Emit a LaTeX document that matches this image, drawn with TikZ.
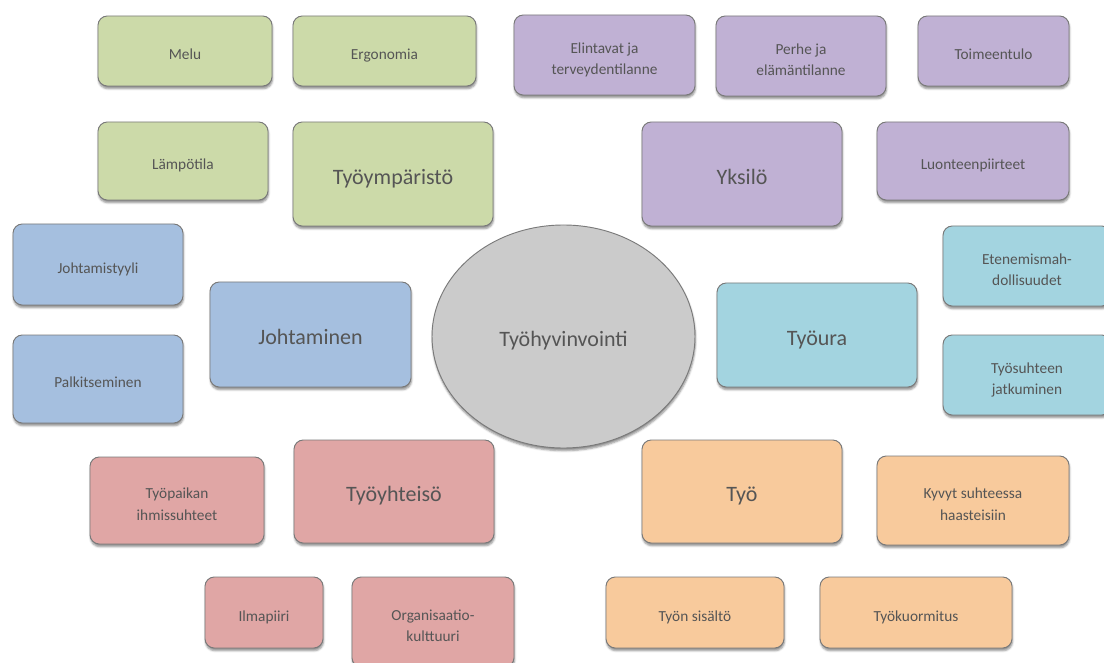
\documentclass[tikz,border=0pt]{standalone}
\usepackage{fontspec}
\setmainfont{Carlito}
\usetikzlibrary{shapes.geometric,shadows.blur}
\definecolor{cgreen}{HTML}{CCDAA9}
\definecolor{cpurple}{HTML}{C0B1D4}
\definecolor{cblue}{HTML}{A5BFDF}
\definecolor{ccyan}{HTML}{A3D4E0}
\definecolor{cred}{HTML}{E0A6A5}
\definecolor{corange}{HTML}{F8CA9C}
\definecolor{cgray}{HTML}{CBCBCB}
\definecolor{ctext}{HTML}{555555}
\definecolor{cline}{HTML}{7A7A7A}
\newcommand{\topfix}{\rule{0pt}{\dimexpr 0.89em+6pt\relax}}
\newcommand{\botfix}{\rule[-0.25em]{0pt}{0.25em}}
\tikzset{
  shad/.style={blur shadow={shadow xshift=0.4pt, shadow yshift=-2pt, shadow blur radius=1.5pt, shadow opacity=45}},
  box/.style={rectangle, rounded corners=7pt, draw=cline, line width=0.7pt,
    text=ctext, align=center, inner sep=2pt, shad},
  small/.style={font=\fontsize{11.5}{16.3}\selectfont,
    execute at begin node={\topfix},
    execute at end node={\botfix}},
  twoline/.style={font=\fontsize{11.5}{16.3}\selectfont},
  big/.style={font=\fontsize{16.5}{20}\selectfont,
    execute at begin node={\rule{0pt}{\dimexpr 0.89em+4.5pt\relax}},
    execute at end node={\botfix}},
  sz/.style n args={2}{minimum width=#1*0.75pt, minimum height=#2*0.75pt},
  green/.style={box, fill=cgreen},
  purple/.style={box, fill=cpurple},
  blue/.style={box, fill=cblue},
  cyan/.style={box, fill=ccyan},
  red/.style={box, fill=cred},
  orange/.style={box, fill=corange},
}
\begin{document}
\begin{tikzpicture}[x=0.75pt, y=-0.75pt]
\useasboundingbox (0,0) rectangle (1104,663);
% green
\node[green, small, sz={174}{70}] (melu) at (185,51) {Melu};
\node[green, small, sz={183}{70}] (ergo) at (384.5,51) {Ergonomia};
\node[green, small, sz={170}{78}] (lampo) at (183,161) {Lämpötila};
\node[green, big, sz={200}{104}] (tymp) at (393,174) {Työympäristö};
% purple
\node[purple, twoline, sz={181}{80}] (elin) at (604.5,55) {\topfix Elintavat ja\\terveydentilanne\botfix};
\node[purple, twoline, sz={170}{80}] (perhe) at (801,56) {\topfix Perhe ja\\elämäntilanne\botfix};
\node[purple, small, sz={151}{70}] (toim) at (993.5,51) {Toimeentulo};
\node[purple, big, sz={200}{104}] (yksilo) at (742,174) {Yksilö};
\node[purple, small, sz={192}{78}] (luonne) at (973,161) {Luonteenpiirteet};
% blue
\node[blue, small, sz={170}{81}] (jst) at (98,264.5) {Johtamistyyli};
\node[blue, small, sz={170}{88}] (palk) at (98,379) {Palkitseminen};
\node[blue, big, sz={201}{105}] (joht) at (310.5,334.5) {Johtaminen};
% center
\node[ellipse, draw=cline, line width=0.7pt, fill=cgray, text=ctext, big, shad,
  minimum width=263*0.75pt, minimum height=223*0.75pt]
  (center) at (563.5,336.5) {Työhyvinvointi};
% cyan
\node[cyan, big, sz={200}{104}] (tyoura) at (817,335) {Työura};
\node[cyan, twoline, sz={168}{80}] (eten) at (1027,266) {\topfix Etenemismah-\\dollisuudet\botfix};
\node[cyan, twoline, sz={168}{80}] (tsuhde) at (1027,375) {\topfix Työsuhteen\\jatkuminen\botfix};
% red
\node[red, twoline, sz={174}{87}] (ihmis) at (177,500.5) {\topfix Työpaikan\\ihmissuhteet\botfix};
\node[red, big, sz={200}{103}] (yhteiso) at (394,491.5) {Työyhteisö};
\node[red, small, sz={118}{71}] (ilma) at (264,612.5) {Ilmapiiri};
\node[red, twoline, sz={162}{90}] (org) at (433,622) {\topfix Organisaatio-\\kulttuuri\botfix};
% orange
\node[orange, big, sz={200}{103}] (tyo) at (742,491.5) {Työ};
\node[orange, twoline, sz={192}{89}] (kyvyt) at (973,500.5) {\topfix Kyvyt suhteessa\\haasteisiin\botfix};
\node[orange, small, sz={178}{71}] (sisalto) at (695,612.5) {Työn sisältö};
\node[orange, small, sz={192}{71}] (kuorm) at (916,612.5) {Työkuormitus};
\end{tikzpicture}
\end{document}
